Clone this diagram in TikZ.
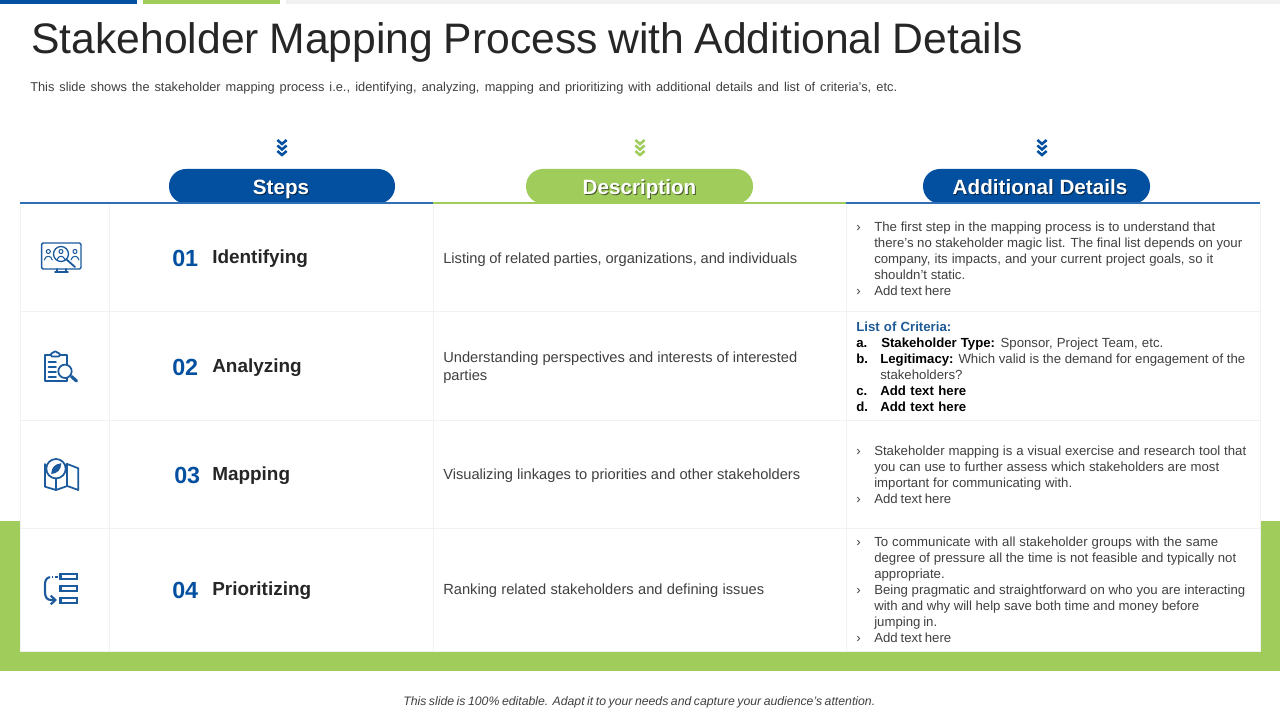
\documentclass[tikz,border=0pt]{standalone}
\usepackage{fontspec}
\setmainfont{Liberation Sans}
\usetikzlibrary{arrows.meta}
\definecolor{blu}{HTML}{0450A0}
\definecolor{grn}{HTML}{A0CC5C}
\definecolor{ink}{HTML}{262626}
\definecolor{txt}{HTML}{404040}
\definecolor{rule}{HTML}{F1F1F1}
\definecolor{crit}{HTML}{1F5A96}
\definecolor{ico}{HTML}{1C5A9E}
\definecolor{hblu}{HTML}{2F6DB5}
\newlength\pxu \setlength\pxu{.75pt}
\newcommand{\jl}[2]{\makebox[#1\pxu][s]{\strut #2}}
\newcommand{\bl}[2]{\makebox[18\pxu][l]{\strut ›}\jl{#1}{#2}}
\newcommand{\cl}[2]{\hspace*{18\pxu}\jl{#1}{#2}}
\tikzset{
  x=.75pt,y=-.75pt,
  block/.style={anchor=north west,inner sep=0pt,align=left,text=txt,font=\fontsize{9.9}{12}\selectfont},
  desc/.style={anchor=base west,inner sep=0pt,align=left,text=txt,font=\fontsize{11}{13.5}\selectfont},
  num/.style={anchor=base west,inner sep=0pt,text=blu,font=\fontsize{17.5}{20}\selectfont\bfseries},
  stepname/.style={anchor=base west,inner sep=0pt,text=ink,font=\fontsize{14.2}{18}\selectfont\bfseries},
  pill/.style={fill=#1,rounded corners=12.7pt},
  head/.style={inner sep=0pt,anchor=base,text=white,font=\fontsize{15.5}{18}\selectfont\bfseries},
  headsh/.style={inner sep=0pt,anchor=base,text=black,opacity=.55,font=\fontsize{15.5}{18}\selectfont\bfseries},
  grid/.style={draw=rule,line width=.6pt},
  icon/.style={draw=ico,line width=1.3pt,line join=round,line cap=round},
  chev/.style={draw=#1,line width=1.9pt,line join=miter}
}
\newcommand{\chevrons}[2]{%
  \foreach \d in {0,5.5,11}{\draw[chev=#2] (#1-4.6,140+\d) -- (#1,144+\d) -- (#1+4.6,140+\d);}}
\begin{document}
\begin{tikzpicture}
\useasboundingbox (0,0) rectangle (1280,720);
\fill[white] (0,0) rectangle (1280,720);
% top bars
\fill[blu] (0,0) rectangle (137,4);
\fill[grn] (143,0) rectangle (280,4);
\fill[rule] (286,0) rectangle (1280,4);
% band and table
\fill[grn] (0,521) rectangle (1280,671);
\fill[white] (20,204) rectangle (1260,651);
\draw[grid] (20,205) -- (20,651) -- (1260,651) -- (1260,205);
\draw[grid] (109,205) -- (109,651);
\draw[grid] (433,205) -- (433,651);
\draw[grid] (846,205) -- (846,651);
\draw[grid] (20,311) -- (1260,311);
\draw[grid] (20,420) -- (1260,420);
\draw[grid] (20,528) -- (1260,528);
% title
\node[anchor=base west,inner sep=0pt,text=ink,font=\fontsize{32}{36}\selectfont] (title) at (31,54) {\makebox[992\pxu][s]{Stakeholder Mapping Process with Additional Details}};
\node[anchor=base west,inner sep=0pt,text=txt,font=\fontsize{9.6}{11}\selectfont] (subtitle) at (30,92) {\makebox[867\pxu][s]{This slide shows the stakeholder mapping process i.e., identifying, analyzing, mapping and prioritizing with additional details and list of criteria's, etc.}};
% chevrons
\chevrons{282}{blu}
\chevrons{640}{grn}
\chevrons{1042}{blu}
% pills and header rules
\fill[pill=blu] (169,169) rectangle (395,203.5);
\fill[pill=grn] (526,169) rectangle (753,203.5);
\fill[pill=blu] (923,169) rectangle (1150,203.5);
\draw[hblu,line width=.85pt] (20,203) -- (433,203);
\draw[grn,line width=.85pt] (433,203) -- (846,203);
\draw[hblu,line width=.85pt] (846,203) -- (1260,203);
\node[headsh] (steps s) at (282,196) {Steps};
\node[head] (steps) at (281,195) {Steps};
\node[headsh] (desc s) at (640.5,196) {Description};
\node[head] (desc) at (639.5,195) {Description};
\node[headsh] (addl s) at (1041,196) {Additional Details};
\node[head] (addl) at (1040,195) {Additional Details};
% numbers and names
\node[num] (n1) at (172,266) {01};
\node[num] (n2) at (172,375) {02};
\node[num] (n3) at (174,483) {03};
\node[num] (n4) at (172,598) {04};
\node[stepname] (s1) at (212,263.5) {Identifying};
\node[stepname] (s2) at (212,372.5) {Analyzing};
\node[stepname] (s3) at (212,480.5) {Mapping};
\node[stepname] (s4) at (212,595.5) {Prioritizing};
% description
\node[desc] (d1) at (443,263) {\jl{354}{Listing of related parties, organizations, and individuals}};
\node[desc,anchor=north west] (d2) at (443,350) {\jl{354}{Understanding perspectives and interests of interested}\\\jl{44}{parties}};
\node[desc] (d3) at (443,479.5) {\jl{357}{Visualizing linkages to priorities and other stakeholders}};
\node[desc] (d4) at (443,594.5) {\jl{321}{Ranking related stakeholders and defining issues}};
% details
\node[block] (a1) at (856,220) {\bl{341}{The first step in the mapping process is to understand that}\\
\cl{368}{there's no stakeholder magic list. The final list depends on your}\\
\cl{339}{company, its impacts, and your current project goals, so it}\\
\cl{91}{shouldn't static.}\\
\bl{77}{Add text here}};
\node[block] (a2) at (856,320) {\textcolor{crit}{\jl{95}{\bfseries List of Criteria:}}\\
\makebox[25\pxu][l]{\strut\textbf{\textcolor{black}{a.}}}\jl{282}{\textbf{\textcolor{black}{Stakeholder Type:}} Sponsor, Project Team, etc.}\\
\makebox[24\pxu][l]{\strut\textbf{\textcolor{black}{b.}}}\jl{365}{\textbf{\textcolor{black}{Legitimacy:}} Which valid is the demand for engagement of the}\\
\hspace*{24\pxu}\jl{81}{stakeholders?}\\
\makebox[24\pxu][l]{\strut\textbf{\textcolor{black}{c.}}}\jl{86}{\textbf{\textcolor{black}{Add text here}}}\\
\makebox[24\pxu][l]{\strut\textbf{\textcolor{black}{d.}}}\jl{86}{\textbf{\textcolor{black}{Add text here}}}};
\node[block] (a3) at (856,444.5) {\bl{372}{Stakeholder mapping is a visual exercise and research tool that}\\
\cl{345}{you can use to further assess which stakeholders are most}\\
\cl{198}{important for communicating with.}\\
\bl{77}{Add text here}};
\node[block] (a4) at (856,535.5) {\bl{344}{To communicate with all stakeholder groups with the same}\\
\cl{362}{degree of pressure all the time is not feasible and typically not}\\
\cl{67}{appropriate.}\\
\bl{371}{Being pragmatic and straightforward on who you are interacting}\\
\cl{325}{with and why will help save both time and money before}\\
\cl{63}{jumping in.}\\
\bl{77}{Add text here}};
% footer
\node[anchor=base west,inner sep=0pt,text=txt,font=\fontsize{9.2}{11}\selectfont\itshape] (foot) at (403,705) {\makebox[472\pxu][s]{This slide is 100\% editable. Adapt it to your needs and capture your audience's attention.}};
% icon 1
\draw[icon,line width=1.1pt,rounded corners=1pt] (41.7,243) rectangle (81,269);
\draw[icon] (57,269) -- (57,271.5) (66,269) -- (66,271.5) (55,272) -- (68,272);
\draw[icon,line width=1pt] (61,254) circle (7.5);
\draw[icon,line width=1.4pt] (66,259) -- (75,267);
\foreach \c in {48.3,61,75}{
  \draw[icon,line width=.8pt] (\c,251.5) circle (2);
  \draw[icon,line width=.8pt] (\c-4,260) .. controls (\c-3,255) and (\c+3,255) .. (\c+4,260);
}
% icon 2
\draw[icon] (45.3,355) rectangle (67.3,381);
\draw[icon,fill=white,rounded corners=1pt] (50.7,356.5) -- (50.7,353) -- (53.5,353) -- (55.3,350.5) -- (57,353) -- (60,353) -- (60,356.5) -- cycle;
\foreach \v in {361.7,366.7,371.7,376.7}{\draw[icon] (48.5,\v) -- (56,\v);}
\draw[icon,fill=white] (65,371.3) circle (6.7);
\draw[icon,line width=2.4pt] (71.5,376.5) -- (76.5,381);
% icon 3
\draw[icon] (45,464) -- (45,486.7) -- (56,490) -- (67.3,486) -- (78.3,490) -- (78.3,468.3) -- (67.3,464) -- (60,467);
\draw[icon] (67.3,464) -- (67.3,486);
\draw[icon] (56,476) -- (56,490);
\draw[icon,fill=white] (56,468.7) circle (9.7);
\fill[ico] (51.2,474) .. controls (51.5,467) and (55,464) .. (61.3,463.2) .. controls (61,470) and (57.5,473.5) .. cycle;
% icon 4
\foreach \v in {574.3,586,597.7}{\draw[icon,line width=1.7pt,line cap=butt,line join=miter] (60.5,\v) rectangle (77.3,\v+5);}
\draw[icon,line width=1.7pt,dash pattern=on 1.8pt off 2.4pt,line cap=butt] (57.5,577) -- (51.5,577);
\draw[icon,line width=1.6pt,-{Straight Barb[length=3.5pt,width=6.5pt]}] (49.5,577.2) .. controls (46,578) and (45,581) .. (45,585) -- (45,592) .. controls (45,597) and (47,600) .. (51,600) -- (57,600);
\end{tikzpicture}
\end{document}
